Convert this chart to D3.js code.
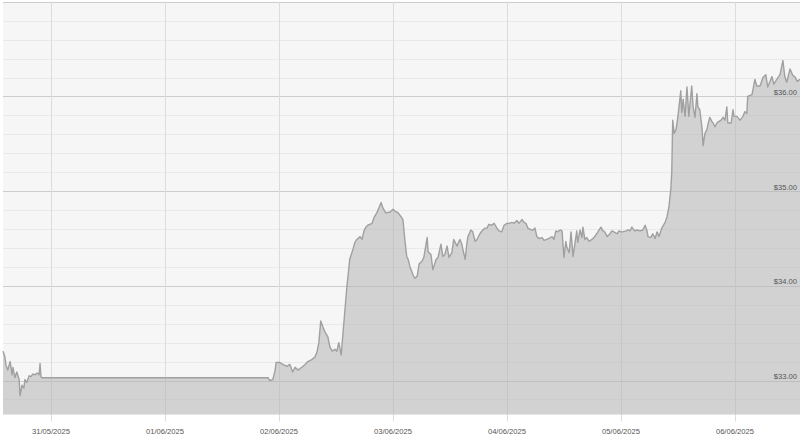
<!DOCTYPE html>
<html>
<head>
<meta charset="utf-8">
<script src="https://cdn.jsdelivr.net/npm/d3@7"></script>
<style>
  html, body { margin: 0; padding: 0; background: #ffffff; }
  svg { display: block; }
  text { font-family: "Liberation Sans", Arial, sans-serif; }
</style>
</head>
<body>
<svg id="chart" width="800" height="438"></svg>
<script>
// ---- DATA ----
// hours since 30/05/2025 00:00
const hours = [
  13.9, 14.3, 14.5, 14.9, 15.4, 15.8, 16.0, 16.4, 16.8, 17.3, 17.5, 17.9, 18.3, 18.5, 18.9, 19.4, 19.8, 20.2, 20.6, 21.1, 21.5, 21.7, 21.9, 22.1,
  69.7, 70.1, 70.7, 71.2, 71.4, 72.2, 72.8, 73.7, 74.3, 74.9, 75.4, 76.0, 76.8, 77.5, 78.1, 78.9, 79.6, 80.0, 80.4, 80.8, 81.3, 81.7, 82.3, 82.7,
  83.2, 83.8, 84.2, 84.6, 85.1, 85.5, 85.9, 86.3, 86.9, 87.6, 88.0, 88.4, 89.1, 89.5, 89.9, 90.3, 90.7, 91.6, 92.0, 92.6, 93.1, 93.5, 93.9, 94.5,
  95.4, 96.0, 96.4, 97.1, 97.7, 98.1, 98.5, 98.9, 99.2, 99.6, 100.2, 100.6, 101.1, 101.5, 102.1, 102.5, 103.2, 103.4, 104.0, 104.4, 105.1, 105.5,
  106.1, 106.5, 106.9, 107.4, 107.8, 108.4, 108.8, 109.5, 109.9, 110.1, 110.5, 110.7, 111.2, 111.6, 111.8, 112.4, 112.8, 113.3, 113.7, 114.3,
  114.9, 115.4, 115.8, 116.2, 116.8, 117.3, 117.9, 118.3, 118.9, 119.4, 120.0, 120.4, 121.1, 121.5, 122.1, 122.5, 123.2, 123.6, 124.0, 124.4,
  125.1, 125.5, 125.9, 126.3, 126.7, 127.4, 127.8, 128.4, 128.8, 129.5, 129.9, 130.3, 130.7, 131.2, 131.6, 132.0, 132.4, 132.6, 133.1, 133.5,
  133.9, 134.3, 134.7, 134.9, 135.4, 135.8, 136.0, 136.4, 136.8, 137.3, 137.9, 138.3, 138.9, 139.4, 139.8, 140.2, 140.6, 141.1, 141.7, 142.1,
  142.5, 143.2, 143.6, 144.0, 144.4, 145.1, 145.5, 145.9, 146.3, 146.9, 147.4, 148.0, 148.6, 149.1, 149.5, 149.7, 150.3, 150.7, 151.2, 151.6,
  152.0, 152.6, 153.3, 153.7, 154.1, 154.5, 154.7, 154.9, 155.2, 155.6, 156.0, 156.6, 156.8, 157.1, 157.5, 157.9, 158.3, 158.9, 159.2, 159.6,
  160.0, 160.2, 160.6, 161.1, 161.3, 161.7, 162.1, 162.3, 162.7, 163.2, 163.4, 163.8, 164.2, 164.4, 165.1, 165.5, 165.9, 166.3, 166.5, 167.2,
  167.6, 167.8, 168.4, 169.1, 169.7, 170.1, 170.5, 170.7, 171.6, 172.2, 172.6, 173.3, 173.9, 174.5, 174.9, 175.8, 176.2, 176.8, 177.5, 178.1,
  178.5, 178.9, 179.6, 180.2, 180.6, 181.1, 181.7
];
const prices = [
  33.31, 33.25, 33.17, 33.11, 33.20, 33.06, 33.14, 33.03, 33.09, 33.01, 32.84, 32.95, 32.92, 33.01, 32.98, 33.05, 33.04, 33.07, 33.06, 33.08, 33.06, 33.18, 33.04, 33.03,
  33.03, 33.00, 33.01, 33.11, 33.19, 33.19, 33.17, 33.15, 33.17, 33.09, 33.14, 33.11, 33.14, 33.17, 33.20, 33.22, 33.25, 33.30, 33.40, 33.63, 33.56, 33.51, 33.46, 33.36,
  33.31, 33.33, 33.31, 33.40, 33.27, 33.51, 33.75, 33.99, 34.28, 34.39, 34.46, 34.49, 34.52, 34.49, 34.58, 34.62, 34.64, 34.66, 34.72, 34.77, 34.83, 34.88, 34.82, 34.77,
  34.78, 34.81, 34.79, 34.77, 34.73, 34.70, 34.49, 34.31, 34.28, 34.20, 34.12, 34.08, 34.10, 34.23, 34.26, 34.30, 34.51, 34.36, 34.33, 34.17, 34.28, 34.30,
  34.44, 34.31, 34.33, 34.42, 34.30, 34.35, 34.49, 34.42, 34.47, 34.49, 34.44, 34.39, 34.28, 34.46, 34.52, 34.59, 34.57, 34.47, 34.49, 34.55,
  34.59, 34.61, 34.61, 34.65, 34.64, 34.66, 34.61, 34.58, 34.57, 34.64, 34.66, 34.66, 34.67, 34.66, 34.69, 34.66, 34.70, 34.67, 34.66, 34.61,
  34.59, 34.59, 34.61, 34.52, 34.50, 34.51, 34.48, 34.49, 34.50, 34.52, 34.49, 34.58, 34.57, 34.59, 34.58, 34.30, 34.47, 34.41, 34.35, 34.57,
  34.31, 34.44, 34.58, 34.46, 34.59, 34.51, 34.62, 34.49, 34.51, 34.47, 34.49, 34.51, 34.55, 34.59, 34.62, 34.58, 34.57, 34.52, 34.55, 34.58,
  34.57, 34.55, 34.58, 34.57, 34.57, 34.58, 34.59, 34.58, 34.62, 34.58, 34.59, 34.58, 34.59, 34.64, 34.58, 34.52, 34.51, 34.55, 34.50, 34.57,
  34.52, 34.61, 34.67, 34.73, 34.83, 35.02, 35.20, 35.75, 35.61, 35.65, 35.79, 36.06, 35.83, 35.97, 35.79, 36.10, 35.79, 36.11, 35.89, 35.78,
  36.03, 35.89, 35.86, 35.65, 35.48, 35.61, 35.65, 35.70, 35.78, 35.73, 35.72, 35.68, 35.72, 35.73, 35.75, 35.78, 35.75, 35.89, 35.72, 35.72,
  35.86, 35.79, 35.79, 35.75, 35.79, 35.84, 35.82, 36.00, 36.02, 36.18, 36.11, 36.11, 36.20, 36.23, 36.10, 36.21, 36.13, 36.18, 36.23, 36.38,
  36.21, 36.15, 36.29, 36.22, 36.21, 36.16, 36.18
];
const priceLabels = [33, 34, 35, 36];
const dateLabels = ["31/05/2025", "01/06/2025", "02/06/2025", "03/06/2025", "04/06/2025", "05/06/2025", "06/06/2025"];
const baseDate = new Date(2025, 4, 30, 0, 0, 0);

// ---- LAYOUT ----
const svg = d3.select("#chart");
const plotL = 3, plotR = 800, plotT = 1.8, plotB = 414.6;
const toDate = h => new Date(baseDate.getTime() + h * 3600 * 1000);
const data = hours.map((h, i) => ({ t: toDate(h), p: prices[i] }));

const x = d3.scaleTime()
  .domain([toDate(hours[0]), toDate(hours[hours.length - 1])])
  .range([plotL, plotR]);
const y = d3.scaleLinear().domain([32.64, 37.0]).range([plotB, plotT]);

// background
svg.append("rect").attr("x", plotL).attr("y", plotT)
  .attr("width", plotR - plotL).attr("height", plotB - plotT)
  .attr("fill", "#f6f6f6");

// minor + major horizontal grid (every $0.20)
const yGrid = d3.range(0, 22).map(i => +(32.8 + i * 0.2).toFixed(1));
svg.append("g").selectAll("line").data(yGrid).join("line")
  .attr("x1", plotL).attr("x2", plotR)
  .attr("y1", d => Math.round(y(d)) + 0.5).attr("y2", d => Math.round(y(d)) + 0.5)
  .attr("stroke", d => Number.isInteger(d) ? "#cdcdcd" : "#e9e9e9")
  .attr("stroke-width", 1);

// vertical day grid (extends below as ticks)
const dayTicks = dateLabels.map(s => {
  const [dd, mm, yy] = s.split("/").map(Number);
  return new Date(yy, mm - 1, dd);
});
svg.append("g").selectAll("line").data(dayTicks).join("line")
  .attr("x1", d => Math.round(x(d)) + 0.5).attr("x2", d => Math.round(x(d)) + 0.5)
  .attr("y1", plotT).attr("y2", plotB + 7)
  .attr("stroke", "#dcdcdc").attr("stroke-width", 1);

// area
const area = d3.area().x(d => x(d.t)).y0(plotB).y1(d => y(d.p)).curve(d3.curveLinear);
svg.append("path").datum(data).attr("d", area)
  .attr("fill", "#b4b4b4").attr("fill-opacity", 0.55);

// line
const line = d3.line().x(d => x(d.t)).y(d => y(d.p));
svg.append("path").datum(data).attr("d", line)
  .attr("fill", "none").attr("stroke", "#a0a0a0").attr("stroke-width", 1.4)
  .attr("stroke-linejoin", "round");

// price labels
svg.append("g").selectAll("text").data(priceLabels).join("text")
  .attr("x", 797).attr("y", d => y(d) - 1.5)
  .attr("text-anchor", "end")
  .attr("font-size", "7.6px").attr("fill", "#555")
  .text(d => "$" + d3.format(".2f")(d));

// date labels
svg.append("g").selectAll("text").data(dayTicks).join("text")
  .attr("x", d => x(d)).attr("y", 433.5)
  .attr("text-anchor", "middle")
  .attr("font-size", "7.6px").attr("fill", "#555")
  .text((d, i) => dateLabels[i]);
</script>
</body>
</html>
